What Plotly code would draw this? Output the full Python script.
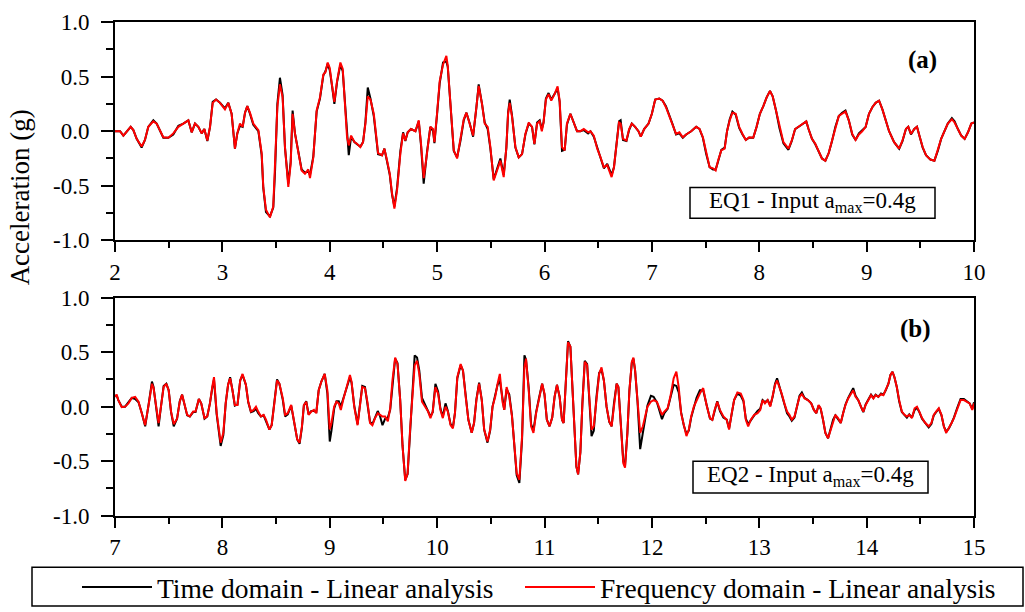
import plotly.graph_objects as go

# ---------------- data ----------------
t_a = [2.000, 2.047, 2.078, 2.124, 2.146, 2.171, 2.202, 2.248, 2.279, 2.310,
       2.357, 2.388, 2.419, 2.450, 2.497, 2.543, 2.590, 2.636, 2.683, 2.714,
       2.745, 2.776, 2.807, 2.832, 2.860, 2.885, 2.910, 2.941, 2.978, 3.024,
       3.055, 3.086, 3.117, 3.139, 3.164, 3.189, 3.211, 3.232, 3.257, 3.288,
       3.335, 3.366, 3.381, 3.406, 3.443, 3.474, 3.490, 3.512, 3.536, 3.561,
       3.583, 3.614, 3.636, 3.654, 3.676, 3.707, 3.738, 3.769, 3.800, 3.816,
       3.847, 3.878, 3.909, 3.940, 3.960, 3.981, 4.000, 4.022, 4.043, 4.068,
       4.099, 4.121, 4.146, 4.161, 4.177, 4.199, 4.230, 4.254, 4.285, 4.310,
       4.332, 4.354, 4.379, 4.410, 4.434, 4.450, 4.487, 4.509, 4.534, 4.559,
       4.580, 4.602, 4.627, 4.658, 4.683, 4.704, 4.726, 4.757, 4.798, 4.829,
       4.850, 4.875, 4.906, 4.937, 4.962, 4.975, 4.999, 5.024, 5.055, 5.086,
       5.099, 5.123, 5.155, 5.186, 5.217, 5.248, 5.273, 5.304, 5.335, 5.366,
       5.387, 5.418, 5.443, 5.471, 5.496, 5.527, 5.558, 5.589, 5.620, 5.645,
       5.661, 5.676, 5.698, 5.729, 5.760, 5.791, 5.822, 5.853, 5.884, 5.906,
       5.931, 5.955, 5.975, 5.991, 6.013, 6.038, 6.063, 6.094, 6.122, 6.141,
       6.163, 6.188, 6.209, 6.241, 6.272, 6.303, 6.334, 6.366, 6.406, 6.428,
       6.459, 6.491, 6.522, 6.553, 6.584, 6.606, 6.625, 6.647, 6.669, 6.694,
       6.709, 6.731, 6.763, 6.788, 6.813, 6.844, 6.875, 6.897, 6.928, 6.969,
       7.000, 7.031, 7.069, 7.100, 7.131, 7.163, 7.194, 7.225, 7.256, 7.288,
       7.319, 7.366, 7.413, 7.444, 7.475, 7.506, 7.538, 7.569, 7.594, 7.616,
       7.647, 7.678, 7.700, 7.725, 7.750, 7.781, 7.813, 7.844, 7.875, 7.906,
       7.944, 7.975, 8.006, 8.038, 8.069, 8.100, 8.125, 8.156, 8.188, 8.225,
       8.272, 8.303, 8.334, 8.381, 8.413, 8.438, 8.459, 8.491, 8.522, 8.553,
       8.584, 8.616, 8.647, 8.678, 8.709, 8.741, 8.772, 8.803, 8.834, 8.866,
       8.897, 8.928, 8.959, 8.991, 9.022, 9.053, 9.084, 9.116, 9.147, 9.178,
       9.209, 9.256, 9.303, 9.334, 9.366, 9.388, 9.413, 9.444, 9.469, 9.491,
       9.522, 9.553, 9.594, 9.631, 9.663, 9.694, 9.725, 9.756, 9.794, 9.819,
       9.850, 9.881, 9.913, 9.944, 9.975, 10.000]

freq_a = [0.00, 0.00, -0.04, 0.02, 0.04, 0.01, -0.07, -0.14, -0.08, 0.04,
          0.09, 0.07, 0.01, -0.055, -0.06, -0.02, 0.04, 0.07, 0.10, -0.01,
          0.07, 0.04, -0.02, 0.02, -0.085, 0.04, 0.26, 0.29, 0.26, 0.20,
          0.26, 0.16, -0.16, -0.02, 0.07, 0.04, 0.17, 0.23, 0.17, 0.07,
          0.01, -0.20, -0.51, -0.72, -0.79, -0.69, -0.36, 0.22, 0.43, 0.31,
          -0.145, -0.51, -0.30, 0.16, -0.02, -0.18, -0.36, -0.39, -0.35, -0.43,
          -0.24, 0.19, 0.31, 0.52, 0.54, 0.63, 0.58, 0.415, 0.27, 0.46,
          0.63, 0.57, 0.22, -0.055, -0.13, -0.04, -0.10, -0.115, -0.145, -0.10,
          0.07, 0.32, 0.29, 0.16, -0.055, -0.20, -0.22, -0.16, -0.27, -0.39,
          -0.57, -0.71, -0.54, -0.20, -0.02, -0.085, -0.01, 0.02, 0.00, 0.10,
          -0.115, -0.43, -0.20, 0.04, 0.02, -0.10, 0.16, 0.46, 0.61, 0.69,
          0.60, 0.28, -0.175, -0.25, -0.085, 0.11, 0.17, 0.07, -0.04, 0.22,
          0.415, 0.25, 0.07, 0.04, -0.145, -0.45, -0.36, -0.27, -0.42, -0.145,
          0.16, 0.26, 0.13, -0.145, -0.24, -0.21, -0.025, 0.08, 0.04, -0.115,
          0.07, 0.09, 0.00, 0.08, 0.29, 0.34, 0.28, 0.34, 0.41, 0.28,
          -0.145, -0.175, 0.07, 0.16, 0.08, 0.00, 0.00, 0.02, -0.01, 0.00,
          -0.04, -0.16, -0.24, -0.33, -0.31, -0.36, -0.42, -0.33, -0.145, 0.08,
          0.07, -0.07, -0.085, 0.02, 0.07, 0.04, 0.00, -0.05, 0.02, 0.07,
          0.16, 0.29, 0.30, 0.28, 0.22, 0.14, 0.05, -0.025, -0.01, -0.055,
          -0.03, 0.00, 0.04, 0.02, -0.055, -0.20, -0.33, -0.34, -0.36, -0.27,
          -0.175, -0.16, 0.00, 0.10, 0.17, 0.16, 0.04, -0.025, -0.08, -0.055,
          -0.06, 0.04, 0.16, 0.23, 0.31, 0.37, 0.32, 0.19, 0.04, -0.10,
          -0.16, -0.085, 0.02, 0.05, 0.07, 0.09, 0.02, -0.07, -0.115, -0.19,
          -0.25, -0.27, -0.20, -0.085, 0.04, 0.14, 0.16, 0.18, 0.10, -0.025,
          -0.08, -0.03, 0.00, 0.04, 0.16, 0.22, 0.26, 0.28, 0.20, 0.10,
          0.00, -0.10, -0.16, -0.085, 0.02, 0.04, -0.025, 0.02, 0.04, -0.04,
          -0.145, -0.22, -0.26, -0.27, -0.175, -0.07, 0.00, 0.07, 0.11, 0.08,
          0.02, -0.04, -0.07, -0.01, 0.07, 0.08]

time_a = [0.00, 0.00, -0.04, 0.02, 0.04, 0.01, -0.07, -0.15, -0.08, 0.04,
          0.10, 0.07, 0.01, -0.06, -0.06, -0.03, 0.05, 0.07, 0.10, -0.01,
          0.07, 0.04, -0.02, 0.02, -0.09, 0.04, 0.27, 0.29, 0.26, 0.21,
          0.26, 0.16, -0.16, -0.02, 0.05, 0.04, 0.17, 0.23, 0.16, 0.06,
          0.00, -0.22, -0.52, -0.74, -0.78, -0.70, -0.38, 0.25, 0.49, 0.33,
          -0.15, -0.48, -0.28, 0.19, -0.02, -0.17, -0.35, -0.38, -0.37, -0.40,
          -0.23, 0.18, 0.30, 0.51, 0.55, 0.62, 0.56, 0.41, 0.25, 0.45,
          0.61, 0.55, 0.21, -0.06, -0.22, -0.05, -0.10, -0.12, -0.14, -0.10,
          0.08, 0.40, 0.30, 0.14, -0.08, -0.21, -0.22, -0.16, -0.28, -0.40,
          -0.58, -0.69, -0.52, -0.18, -0.01, -0.09, -0.01, 0.02, 0.00, 0.09,
          -0.13, -0.48, -0.19, 0.04, 0.00, -0.11, 0.15, 0.44, 0.63, 0.64,
          0.59, 0.27, -0.18, -0.24, -0.09, 0.10, 0.17, 0.07, -0.05, 0.22,
          0.43, 0.25, 0.08, 0.02, -0.16, -0.44, -0.35, -0.25, -0.40, -0.15,
          0.17, 0.29, 0.14, -0.15, -0.24, -0.21, -0.03, 0.07, 0.04, -0.12,
          0.08, 0.10, 0.02, 0.08, 0.30, 0.35, 0.29, 0.34, 0.39, 0.27,
          -0.18, -0.17, 0.06, 0.16, 0.08, 0.00, 0.00, 0.01, -0.02, 0.00,
          -0.05, -0.15, -0.25, -0.34, -0.30, -0.35, -0.40, -0.33, -0.15, 0.09,
          0.10, -0.08, -0.09, 0.01, 0.07, 0.04, 0.00, -0.05, 0.02, 0.07,
          0.16, 0.29, 0.30, 0.28, 0.23, 0.15, 0.06, -0.03, -0.02, -0.06,
          -0.03, 0.00, 0.04, 0.02, -0.06, -0.21, -0.33, -0.35, -0.35, -0.28,
          -0.17, -0.15, 0.00, 0.11, 0.18, 0.15, 0.03, -0.03, -0.08, -0.06,
          -0.06, 0.04, 0.16, 0.23, 0.31, 0.37, 0.32, 0.19, 0.03, -0.11,
          -0.17, -0.09, 0.02, 0.05, 0.07, 0.09, 0.02, -0.07, -0.12, -0.19,
          -0.25, -0.27, -0.20, -0.09, 0.04, 0.14, 0.17, 0.19, 0.10, -0.03,
          -0.08, -0.02, 0.01, 0.04, 0.16, 0.22, 0.26, 0.28, 0.20, 0.10,
          0.00, -0.10, -0.16, -0.09, 0.02, 0.04, -0.03, 0.02, 0.04, -0.04,
          -0.15, -0.22, -0.26, -0.27, -0.18, -0.07, 0.00, 0.07, 0.12, 0.09,
          0.02, -0.04, -0.07, -0.01, 0.07, 0.08]

t_b = [7.000, 7.016, 7.031, 7.063, 7.094, 7.125, 7.156, 7.188, 7.219, 7.250,
       7.281, 7.313, 7.344, 7.359, 7.384, 7.406, 7.428, 7.453, 7.478, 7.500,
       7.522, 7.547, 7.578, 7.603, 7.625, 7.647, 7.672, 7.697, 7.728, 7.750,
       7.781, 7.803, 7.834, 7.859, 7.884, 7.906, 7.922, 7.947, 7.969, 7.984,
       8.009, 8.031, 8.053, 8.072, 8.094, 8.116, 8.141, 8.166, 8.188, 8.219,
       8.241, 8.266, 8.291, 8.313, 8.334, 8.359, 8.384, 8.406, 8.438, 8.459,
       8.484, 8.509, 8.531, 8.563, 8.584, 8.609, 8.641, 8.672, 8.697, 8.719,
       8.741, 8.759, 8.781, 8.803, 8.828, 8.853, 8.875, 8.897, 8.922, 8.953,
       8.978, 9.000, 9.016, 9.041, 9.063, 9.084, 9.103, 9.125, 9.156, 9.188,
       9.203, 9.228, 9.259, 9.281, 9.303, 9.328, 9.353, 9.375, 9.397, 9.422,
       9.447, 9.469, 9.491, 9.516, 9.541, 9.563, 9.584, 9.609, 9.631, 9.656,
       9.678, 9.703, 9.725, 9.750, 9.772, 9.791, 9.813, 9.834, 9.859, 9.891,
       9.916, 9.938, 9.959, 9.984, 10.009, 10.031, 10.053, 10.078, 10.100, 10.125,
       10.147, 10.166, 10.188, 10.219, 10.241, 10.266, 10.291, 10.322, 10.344, 10.366,
       10.391, 10.416, 10.438, 10.469, 10.494, 10.516, 10.541, 10.563, 10.584, 10.609,
       10.625, 10.647, 10.672, 10.697, 10.719, 10.741, 10.766, 10.791, 10.813, 10.828,
       10.853, 10.875, 10.897, 10.922, 10.947, 10.978, 11.000, 11.022, 11.047, 11.072,
       11.094, 11.116, 11.141, 11.163, 11.178, 11.197, 11.219, 11.241, 11.259, 11.281,
       11.297, 11.313, 11.334, 11.353, 11.375, 11.397, 11.416, 11.438, 11.459, 11.484,
       11.509, 11.531, 11.553, 11.578, 11.603, 11.625, 11.647, 11.672, 11.688, 11.709,
       11.734, 11.750, 11.772, 11.791, 11.813, 11.828, 11.844, 11.866, 11.891, 11.916,
       11.938, 11.959, 11.991, 12.016, 12.047, 12.072, 12.094, 12.116, 12.147, 12.172,
       12.203, 12.228, 12.250, 12.272, 12.297, 12.322, 12.344, 12.366, 12.391, 12.416,
       12.447, 12.478, 12.509, 12.541, 12.563, 12.584, 12.609, 12.634, 12.666, 12.697,
       12.719, 12.741, 12.766, 12.797, 12.828, 12.853, 12.875, 12.897, 12.922, 12.953,
       12.984, 13.009, 13.031, 13.053, 13.078, 13.103, 13.125, 13.147, 13.166, 13.188,
       13.209, 13.234, 13.259, 13.281, 13.303, 13.328, 13.353, 13.375, 13.397, 13.422,
       13.453, 13.484, 13.509, 13.531, 13.553, 13.572, 13.594, 13.616, 13.641, 13.666,
       13.688, 13.709, 13.734, 13.759, 13.781, 13.803, 13.828, 13.853, 13.875, 13.897,
       13.922, 13.947, 13.969, 13.991, 14.016, 14.041, 14.063, 14.084, 14.109, 14.134,
       14.156, 14.178, 14.203, 14.222, 14.241, 14.259, 14.281, 14.303, 14.328, 14.353,
       14.375, 14.397, 14.422, 14.447, 14.469, 14.491, 14.516, 14.547, 14.578, 14.603,
       14.625, 14.647, 14.672, 14.697, 14.719, 14.741, 14.766, 14.791, 14.813, 14.844,
       14.875, 14.906, 14.938, 14.959, 14.984, 15.000]

freq_b = [0.09, 0.11, 0.06, -0.005, 0.00, 0.03, 0.08, 0.09, 0.045, -0.06,
          -0.17, 0.015, 0.21, 0.17, -0.03, -0.15, 0.00, 0.18, 0.21, 0.15,
          -0.045, -0.16, -0.11, 0.045, 0.11, 0.03, -0.075, -0.09, -0.045, -0.045,
          0.07, 0.03, -0.105, -0.09, 0.03, 0.18, 0.27, -0.06, -0.24, -0.33,
          -0.24, 0.03, 0.20, 0.26, 0.15, 0.015, 0.015, 0.24, 0.30, 0.20,
          0.045, -0.045, -0.03, 0.00, -0.045, -0.09, -0.075, -0.12, -0.21, -0.17,
          0.03, 0.24, 0.21, 0.075, -0.075, -0.06, 0.015, -0.15, -0.30, -0.33,
          -0.18, 0.015, 0.045, -0.075, -0.045, -0.03, -0.06, 0.15, 0.23, 0.30,
          0.15, -0.21, -0.15, 0.00, 0.045, 0.03, -0.03, 0.06, 0.18, 0.29,
          0.23, 0.00, -0.17, 0.00, 0.18, 0.17, 0.03, -0.15, -0.17, -0.105,
          -0.06, -0.075, -0.09, -0.09, -0.135, -0.015, 0.24, 0.45, 0.39, 0.06,
          -0.36, -0.68, -0.61, -0.18, 0.18, 0.38, 0.42, 0.30, 0.045, 0.00,
          -0.045, -0.105, -0.045, 0.18, 0.12, -0.03, -0.105, 0.00, -0.045, -0.17,
          -0.20, -0.06, 0.27, 0.39, 0.33, 0.09, -0.12, -0.24, -0.15, 0.06,
          0.21, 0.06, -0.21, -0.32, -0.21, 0.00, 0.09, 0.21, 0.30, 0.045,
          -0.03, 0.18, 0.09, -0.09, -0.33, -0.61, -0.67, -0.27, 0.36, 0.44,
          0.15, -0.18, -0.24, -0.06, 0.06, 0.21, 0.12, -0.12, -0.18, -0.10,
          0.09, 0.20, 0.09, -0.12, -0.15, 0.18, 0.59, 0.55, 0.18, -0.27,
          -0.55, -0.62, -0.42, 0.03, 0.41, 0.38, 0.09, -0.21, -0.18, 0.09,
          0.30, 0.36, 0.24, 0.00, -0.135, -0.18, 0.03, 0.21, 0.18, -0.18,
          -0.52, -0.56, -0.24, 0.15, 0.41, 0.45, 0.33, 0.06, -0.24, -0.18,
          -0.075, 0.00, 0.045, 0.06, 0.045, -0.03, -0.075, -0.045, -0.015, 0.09,
          0.26, 0.32, 0.18, -0.06, -0.18, -0.27, -0.21, -0.09, 0.00, 0.06,
          0.12, 0.17, 0.015, -0.105, -0.12, -0.03, 0.045, -0.03, -0.09, -0.12,
          -0.21, -0.075, 0.06, 0.13, 0.12, 0.06, -0.12, -0.18, -0.12, -0.075,
          -0.06, -0.03, 0.06, 0.03, 0.06, 0.00, 0.09, 0.20, 0.24, 0.18,
          0.12, 0.03, -0.045, -0.075, -0.12, -0.09, 0.00, 0.09, 0.115, 0.075,
          0.06, 0.03, -0.03, -0.06, 0.015, -0.015, -0.12, -0.24, -0.29, -0.21,
          -0.12, -0.075, -0.105, -0.15, -0.06, 0.015, 0.075, 0.12, 0.15, 0.09,
          0.06, 0.00, -0.045, 0.015, 0.06, 0.105, 0.075, 0.105, 0.09, 0.115,
          0.105, 0.15, 0.21, 0.29, 0.32, 0.27, 0.18, 0.06, -0.045, -0.075,
          -0.09, -0.075, -0.105, -0.015, 0.00, -0.045, -0.105, -0.15, -0.18, -0.15,
          -0.075, -0.045, -0.015, -0.075, -0.18, -0.24, -0.20, -0.15, -0.105, -0.015,
          0.06, 0.06, 0.045, 0.03, -0.03, 0.03]

time_b = [0.10, 0.10, 0.06, 0.00, 0.00, 0.04, 0.08, 0.07, 0.04, -0.06,
          -0.18, 0.02, 0.23, 0.18, -0.04, -0.18, 0.00, 0.19, 0.21, 0.15,
          -0.05, -0.18, -0.11, 0.05, 0.11, 0.03, -0.08, -0.09, -0.05, -0.05,
          0.07, 0.03, -0.11, -0.09, 0.03, 0.17, 0.25, -0.07, -0.27, -0.36,
          -0.26, 0.03, 0.20, 0.27, 0.15, 0.01, 0.02, 0.24, 0.29, 0.20,
          0.04, -0.05, -0.04, -0.02, -0.06, -0.09, -0.08, -0.13, -0.21, -0.17,
          0.03, 0.25, 0.21, 0.06, -0.09, -0.07, 0.01, -0.15, -0.30, -0.34,
          -0.19, 0.01, 0.05, -0.07, -0.04, -0.04, -0.05, 0.15, 0.23, 0.30,
          0.12, -0.32, -0.22, -0.02, 0.05, 0.05, 0.00, 0.07, 0.18, 0.27,
          0.22, 0.01, -0.16, 0.00, 0.19, 0.18, 0.03, -0.14, -0.16, -0.10,
          -0.04, -0.09, -0.17, -0.11, -0.10, -0.03, 0.22, 0.44, 0.40, 0.06,
          -0.36, -0.67, -0.62, -0.22, 0.15, 0.47, 0.45, 0.33, 0.08, 0.01,
          -0.04, -0.09, -0.05, 0.21, 0.14, -0.02, -0.09, 0.03, -0.04, -0.16,
          -0.19, -0.06, 0.26, 0.38, 0.33, 0.09, -0.12, -0.24, -0.15, 0.07,
          0.22, 0.06, -0.21, -0.33, -0.22, 0.00, 0.10, 0.20, 0.24, 0.05,
          -0.03, 0.16, 0.11, -0.08, -0.35, -0.63, -0.70, -0.30, 0.47, 0.43,
          0.17, -0.16, -0.22, -0.05, 0.07, 0.21, 0.11, -0.12, -0.18, -0.10,
          0.09, 0.20, 0.09, -0.12, -0.15, 0.17, 0.60, 0.55, 0.18, -0.27,
          -0.55, -0.62, -0.42, 0.03, 0.42, 0.39, 0.09, -0.27, -0.22, 0.09,
          0.31, 0.34, 0.24, 0.00, -0.14, -0.18, 0.03, 0.21, 0.18, -0.18,
          -0.50, -0.54, -0.24, 0.15, 0.40, 0.44, 0.33, 0.05, -0.39, -0.24,
          -0.09, 0.01, 0.10, 0.09, 0.04, -0.05, -0.115, -0.06, -0.02, 0.08,
          0.20, 0.19, 0.13, -0.05, -0.17, -0.25, -0.22, -0.10, -0.02, 0.08,
          0.15, 0.15, 0.02, -0.11, -0.12, -0.03, 0.05, -0.04, -0.10, -0.12,
          -0.20, -0.08, 0.06, 0.12, 0.10, 0.05, -0.11, -0.16, -0.12, -0.08,
          -0.04, -0.02, 0.06, 0.04, 0.06, 0.01, 0.09, 0.21, 0.26, 0.18,
          0.11, 0.02, -0.06, -0.09, -0.13, -0.10, 0.00, 0.10, 0.13, 0.08,
          0.06, 0.03, -0.03, -0.06, 0.01, -0.02, -0.12, -0.24, -0.29, -0.21,
          -0.12, -0.08, -0.11, -0.15, -0.06, 0.02, 0.08, 0.13, 0.17, 0.10,
          0.06, 0.00, -0.05, 0.02, 0.06, 0.11, 0.08, 0.11, 0.09, 0.12,
          0.11, 0.15, 0.21, 0.29, 0.32, 0.27, 0.18, 0.05, -0.05, -0.08,
          -0.10, -0.07, -0.10, -0.03, -0.01, -0.05, -0.11, -0.15, -0.19, -0.16,
          -0.08, -0.05, -0.02, -0.08, -0.18, -0.23, -0.20, -0.15, -0.10, -0.01,
          0.07, 0.07, 0.05, 0.03, -0.02, 0.04]

y_tickvals = [1.0, 0.5, 0.0, -0.5, -1.0]
y_ticktext = ["1.0", "0.5", "0.0", "-0.5", "-1.0"]
series_names = ["Time domain - Linear analysis", "Frequency domain - Linear analysis"]
panel_labels = ["(a)", "(b)"]
box_texts = ["EQ1 - Input a<sub>max</sub>=0.4g", "EQ2 - Input a<sub>max</sub>=0.4g"]
y_title = "Acceleration (g)"

# ---------------- figure ----------------
FONT = "Liberation Serif"
W, H = 1025, 612

def px_x(p):
    return p / W

def px_y(p):
    return 1 - p / H

fig = go.Figure()

fig.add_trace(go.Scatter(x=t_a, y=time_a, mode="lines", name=series_names[0],
                         line=dict(color="black", width=2), xaxis="x", yaxis="y",
                         legendgroup="time", legend="legend"))
fig.add_trace(go.Scatter(x=t_a, y=freq_a, mode="lines", name=series_names[1],
                         line=dict(color="#ff0000", width=2), xaxis="x", yaxis="y",
                         legendgroup="freq", legend="legend2"))
fig.add_trace(go.Scatter(x=t_b, y=time_b, mode="lines", name=series_names[0],
                         line=dict(color="black", width=2), xaxis="x2", yaxis="y2",
                         legendgroup="time", showlegend=False))
fig.add_trace(go.Scatter(x=t_b, y=freq_b, mode="lines", name=series_names[1],
                         line=dict(color="#ff0000", width=2), xaxis="x2", yaxis="y2",
                         legendgroup="freq", showlegend=False))

xdom = [px_x(115), px_x(974)]
common_x = dict(
    domain=xdom, showline=True, linecolor="black", linewidth=2, mirror=True,
    showgrid=False, zeroline=False, ticks="outside", ticklen=10, tickwidth=1.5,
    tickcolor="black", dtick=1, automargin=False,
    minor=dict(ticks="outside", ticklen=6, tickwidth=1.5, tickcolor="black", dtick=0.5, showgrid=False),
    tickfont=dict(family=FONT, size=23, color="black"),
)
common_y = dict(
    range=[-1, 1], showline=True, linecolor="black", linewidth=2, mirror=True,
    showgrid=False, zeroline=False, ticks="outside", ticklen=12, tickwidth=1.5,
    tickcolor="black", tickvals=y_tickvals, ticktext=y_ticktext, automargin=False,
    ticklabelstandoff=7,
    minor=dict(ticks="outside", ticklen=7, tickwidth=1.5, tickcolor="black",
               tickvals=[0.75, 0.25, -0.25, -0.75], showgrid=False),
    tickfont=dict(family=FONT, size=23, color="black"),
)

legend_common = dict(orientation="h", xanchor="left", y=px_y(592), yanchor="middle",
                     font=dict(family=FONT, size=27.5, color="black"), itemwidth=70,
                     bgcolor="rgba(0,0,0,0)", borderwidth=0)

fig.update_layout(
    width=W, height=H,
    margin=dict(l=0, r=0, t=0, b=0),
    paper_bgcolor="white", plot_bgcolor="white",
    font=dict(family=FONT, color="black"),
    xaxis=dict(common_x, range=[2, 10], tick0=2, anchor="y"),
    yaxis=dict(common_y, domain=[px_y(242.3), px_y(22.3)], anchor="x"),
    xaxis2=dict(common_x, range=[7, 15], tick0=7, anchor="y2"),
    yaxis2=dict(common_y, domain=[px_y(520), px_y(300)], anchor="x2"),
    showlegend=True,
    legend=dict(legend_common, x=px_x(77)),
    legend2=dict(legend_common, x=px_x(520)),
)

# legend frame
fig.add_shape(type="rect", xref="paper", yref="paper",
              x0=px_x(32), x1=px_x(1023), y0=px_y(611), y1=px_y(572),
              line=dict(color="black", width=1.5), fillcolor="rgba(0,0,0,0)")

# info boxes
box_px = [(690, 935, 189, 220), (693, 928, 465, 497)]
for (x0, x1, y0, y1), txt in zip(box_px, box_texts):
    fig.add_shape(type="rect", xref="paper", yref="paper",
                  x0=px_x(x0), x1=px_x(x1), y0=px_y(y1), y1=px_y(y0),
                  line=dict(color="black", width=1.5), fillcolor="white")
    fig.add_annotation(xref="paper", yref="paper", x=px_x((x0 + x1) / 2), y=px_y((y0 + y1) / 2 - 1),
                       text=txt, showarrow=False, xanchor="center", yanchor="middle",
                       font=dict(family=FONT, size=23, color="black"))

# panel labels
for (cx, cy), lab in zip([(922, 60), (915, 332)], panel_labels):
    fig.add_annotation(xref="paper", yref="paper", x=px_x(cx), y=px_y(cy), text="<b>%s</b>" % lab,
                       showarrow=False, xanchor="center", yanchor="middle",
                       font=dict(family=FONT, size=25, color="black"))

# shared y-axis title
fig.add_annotation(xref="paper", yref="paper", x=px_x(20), y=px_y(199), text=y_title,
                   textangle=-90, showarrow=False, xanchor="center", yanchor="middle",
                   font=dict(family=FONT, size=27, color="black"))

fig.write_html("out.html")
